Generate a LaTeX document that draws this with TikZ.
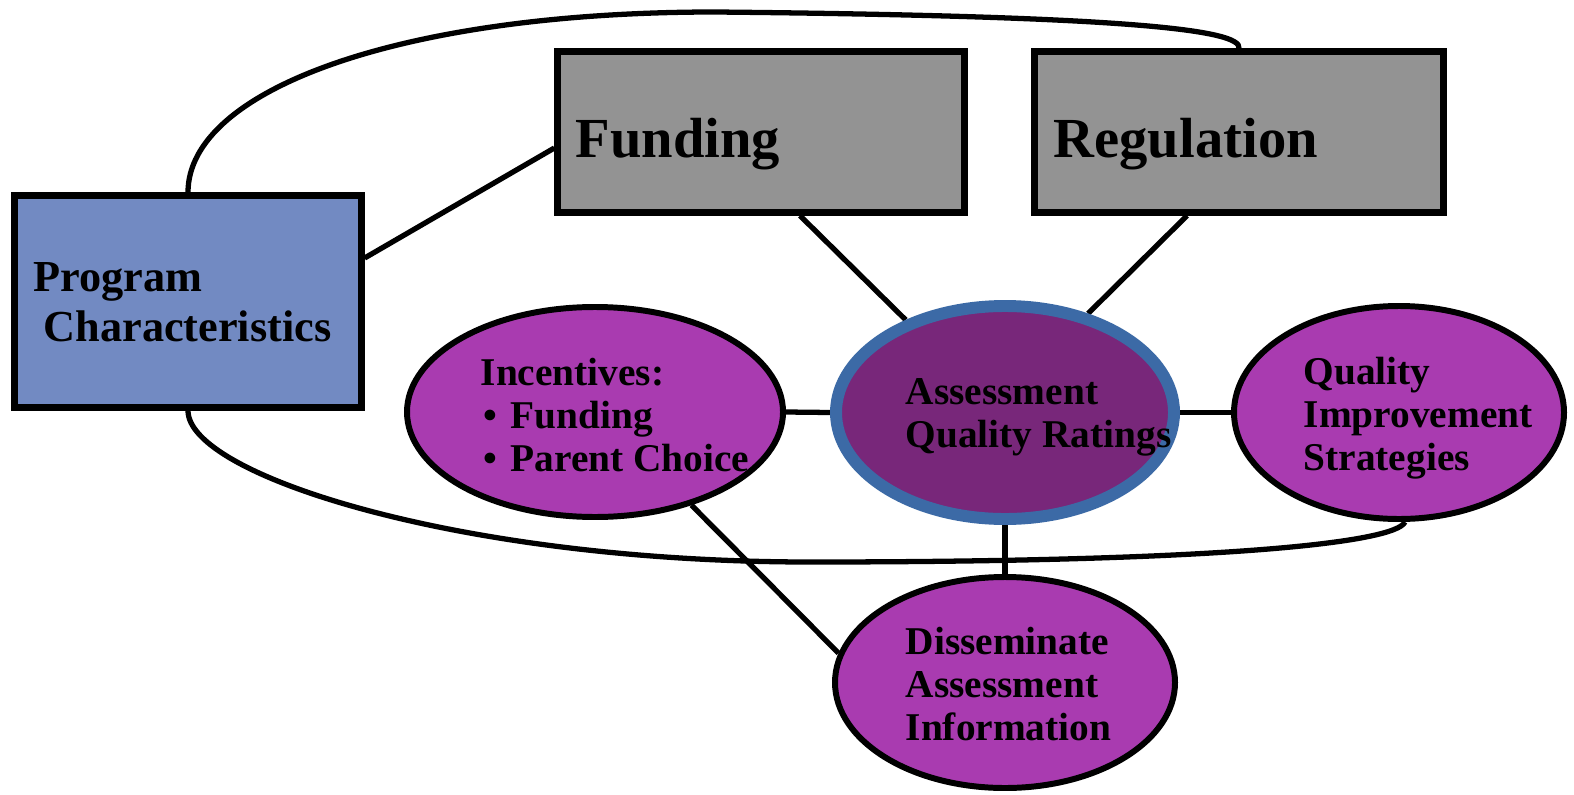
\documentclass[tikz,border=0pt]{standalone}
\usepackage{fontspec}
\setmainfont{Liberation Serif}
\usetikzlibrary{shapes.geometric, backgrounds}

\definecolor{progblue}{RGB}{114,138,194}
\definecolor{boxgray}{RGB}{147,147,147}
\definecolor{ovalviolet}{RGB}{169,59,176}
\definecolor{darkviolet}{RGB}{120,39,122}
\definecolor{ratingblue}{RGB}{60,106,166}

\newcommand{\blt}{\hspace{0.3mm}\textbullet\hspace{1.3mm}}

\tikzset{
  box/.style={draw, line width=1.8pt, inner sep=0pt},
  oval/.style={ellipse, draw, line width=1.7pt, fill=ovalviolet, inner sep=0pt},
  link/.style={line width=1.5pt},
  lbl/.style={align=left, inner sep=0pt, font=\bfseries\fontsize{11.2}{12.3}\selectfont},
}

\begin{document}
\begin{tikzpicture}
\useasboundingbox (0,0) rectangle (15.74,-7.94);

%boxes
\node[box, fill=progblue, minimum width=3.47cm, minimum height=2.12cm] (prog) at (1.88,-3.015) {};
\node[box, fill=boxgray, minimum width=4.07cm, minimum height=1.61cm] (fund) at (7.61,-1.32) {};
\node[box, fill=boxgray, minimum width=4.09cm, minimum height=1.61cm] (reg) at (12.39,-1.32) {};

%ovals
\node[oval, minimum width=3.76cm, minimum height=2.10cm] (inc) at (5.95,-4.12) {};
\node[oval, fill=darkviolet, draw=ratingblue, line width=3.4pt,
  minimum width=3.38cm, minimum height=2.13cm] (asr) at (10.05,-4.125) {};
\node[oval, minimum width=3.30cm, minimum height=2.13cm] (qis) at (13.99,-4.125) {};
\node[oval, minimum width=3.40cm, minimum height=2.11cm] (dis) at (10.05,-6.825) {};

%labels
\node[lbl, font=\bfseries\fontsize{12.6}{14.2}\selectfont, anchor=north west] (prog-t)
  at (0.33,-2.62) {Program\\\hspace{1mm}Characteristics};
\node[lbl, font=\bfseries\fontsize{16.1}{18}\selectfont, anchor=base west] (fund-t)
  at (5.75,-1.58) {Funding};
\node[lbl, font=\bfseries\fontsize{16.1}{18}\selectfont, anchor=base west] (reg-t)
  at (10.53,-1.58) {Regulation};
\node[lbl, anchor=north west] (inc-t) at (4.80,-3.57)
  {Incentives:\\\blt Funding\\\blt Parent Choice};
\node[lbl, anchor=north west] (asr-t) at (9.05,-3.78) {Assessment\\Quality Ratings};
\node[lbl, anchor=north west] (qis-t) at (13.03,-3.56) {Quality\\Improvement\\Strategies};
\node[lbl, anchor=north west] (dis-t) at (9.05,-6.26) {Disseminate\\Assessment\\Information};

%links
\begin{pgfonlayer}{background}
  \fill[white] (0,0) rectangle (15.74,-7.94);
  \draw[link] ([yshift=4.35mm]prog.east) -- ([yshift=-1.6mm]fund.west);
  \draw[link] ([xshift=3.9mm]fund.south) -- (asr.137);
  \draw[link] ([xshift=-5.2mm]reg.south) -- (asr.50);
  \draw[link] (inc.east) -- (asr.west);
  \draw[link] (asr.east) -- (qis.west);
  \draw[link] (asr.south) -- (dis.north);
  \draw[link] (inc.-44) -- (dis.170);
\end{pgfonlayer}

%loops
\draw[link] (prog.north) .. controls (1.88,-0.9) and (4.0,-0.12) .. (7.15,-0.12)
  .. controls (11.3,-0.16) and (12.42,-0.30) .. (reg.north);
\draw[link] (prog.south) .. controls (1.88,-4.75) and (4.6,-5.62) .. (8.1,-5.62)
  .. controls (12.2,-5.62) and (13.95,-5.43) .. ([xshift=0.6mm]qis.south);
\end{tikzpicture}
\end{document}
